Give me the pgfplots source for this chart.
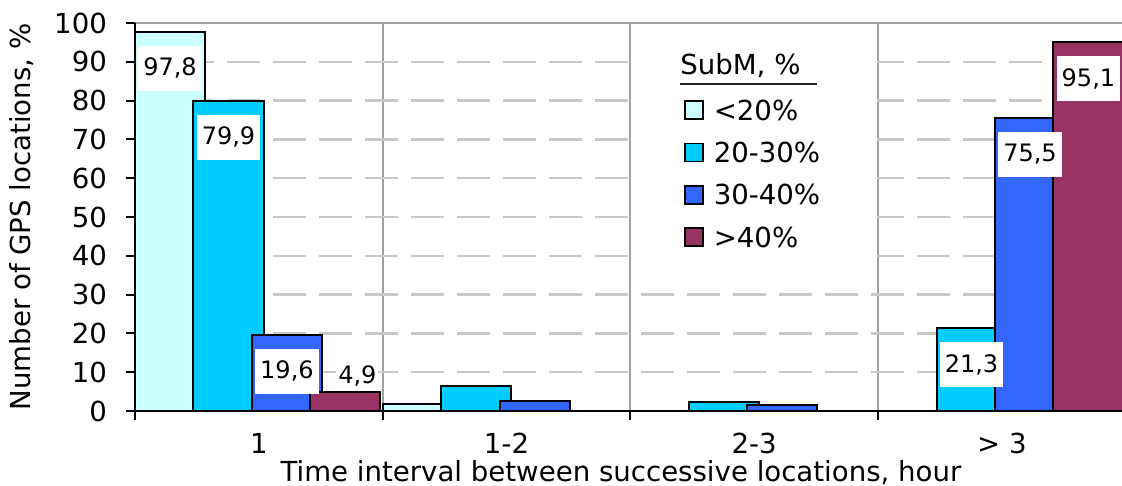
\documentclass[border=0pt]{standalone}
\usepackage{pgfplots}
\pgfplotsset{compat=1.18}
\usepackage{fontspec}
\setmainfont{DejaVu Sans}

\definecolor{subA}{HTML}{CCFFFF}
\definecolor{subB}{HTML}{00CCFF}
\definecolor{subC}{HTML}{3366FF}
\definecolor{subD}{HTML}{993366}
\definecolor{sepgray}{HTML}{A0A0A0}
\definecolor{dashgray}{HTML}{C8C8C8}

\newcommand\chartfont{\fontsize{13.8}{16}\selectfont}
\newcommand\valfont{\fontsize{12}{14}\selectfont}

\pgfplotsset{
  subbar/.style={ybar, bar width=0.283, bar shift=0pt, draw=black, line width=1pt, fill=#1,
    legend image code/.code={\draw[fill=#1, draw=black, line width=0.9pt] (0pt,-4.5pt) rectangle (9pt,4.5pt);}},
  vallabel/.style={
    nodes near coords={\pgfkeys{/pgf/number format/.cd,use comma,fixed,fixed zerofill,precision=1,assume math mode=true}\pgfmathprintnumber{\pgfplotspointmeta}},
    nodes near coords align={anchor=north},
    every node near coord/.append style={font=\valfont, fill=white, text=black,
      yshift=-6.5pt, inner xsep=2.5pt, inner ysep=0pt, minimum height=22.5pt}},
  lowlabel/.style={
    nodes near coords align={anchor=base},
    every node near coord/.append style={yshift=10.5pt, xshift=6pt, minimum height=0pt,
      inner ysep=2pt, inner xsep=1pt}},
}

\begin{document}
\begin{tikzpicture}
\begin{axis}[
  name=ax,
  scale only axis,
  width=493.5pt, height=194pt,
  xmin=0, xmax=3.985,
  ymin=0, ymax=100,
  ytick={0,10,...,100},
  xtick={0,1,2,3},
  xticklabels={,,,},
  extra x ticks={0.5,1.5,2.5,3.5},
  extra x tick labels={1,1-2,2-3,> 3},
  extra x tick style={major tick length=0pt, grid=none,
    xticklabel style={yshift=-7.7pt}},
  yticklabel style={xshift=-6pt},
  tick pos=left,
  tick align=outside,
  major tick length=4.5pt,
  tick style={black, line width=1pt},
  axis line style={draw=none},
  xmajorgrids, ymajorgrids,
  x grid style={sepgray, line width=1pt},
  y grid style={dashgray, line width=1.2pt, dash pattern=on 16.5pt off 6.5pt},
  /pgf/number format/assume math mode=true,
  tick label style={font=\chartfont, text=black},
  every axis y label/.style={at={(axis description cs:-0.1145,0.5)}, rotate=90, anchor=center,
    font=\chartfont, text=black},
  every axis x label/.style={at={(axis description cs:0.4924,0)}, anchor=base, yshift=-35.3pt,
    font=\chartfont, text=black},
  ylabel={Number of GPS locations, \%},
  xlabel={Time interval between successive locations, hour},
  legend style={at={(axis cs:2.2164,80.15)}, anchor=north west, draw=none, fill=none,
    inner sep=0pt, outer sep=0pt, row sep=11.2pt, column sep=5pt, font=\chartfont,
    nodes={inner sep=0pt, text height=10pt, text depth=0pt}},
  legend cell align=left,
]
% white panel behind the legend
\fill[white] (axis cs:2.006,31.6) rectangle (axis cs:2.994,100);

% SubM < 20 %
\addplot[subbar=subA, forget plot] coordinates {(1.1415,1.7)};
\addplot[subbar=subA, vallabel] coordinates {(0.1415,97.8)};
\addlegendentry{<20\%}
% SubM 20-30 %
\addplot[subbar=subB, forget plot] coordinates {(1.3775,6.5) (2.3775,2.3)};
\addplot[subbar=subB, vallabel] coordinates {(0.3775,79.9) (3.3775,21.3)};
\addlegendentry{20-30\%}
% SubM 30-40 %
\addplot[subbar=subC, forget plot] coordinates {(1.6135,2.7) (2.6135,1.6)};
\addplot[subbar=subC, vallabel] coordinates {(0.6135,19.6) (3.6135,75.5)};
\addlegendentry{30-40\%}
% SubM > 40 %
\addplot[subbar=subD, vallabel] coordinates {(3.8495,95.1)};
\addlegendentry{>40\%}
\addplot[subbar=subD, vallabel, lowlabel, forget plot] coordinates {(0.8495,4.9)};

% legend title
\node[anchor=base west, inner sep=0pt, font=\chartfont, text=black] at (axis cs:2.2003,86.6) {SubM, \%};
\draw[line width=1pt, black!85] (axis cs:2.2003,84.28) -- (axis cs:2.7534,84.28);
\end{axis}
\draw[sepgray, line width=1.2pt] (ax.north west) -- (ax.north east);
\draw[black, line width=1pt] (ax.north west) -- (ax.south west) -- (ax.south east);
\pgfresetboundingbox
\path[use as bounding box] ([xshift=-67.5pt, yshift=-37.5pt]ax.south west) rectangle ++(561pt,243pt);
\end{tikzpicture}
\end{document}
